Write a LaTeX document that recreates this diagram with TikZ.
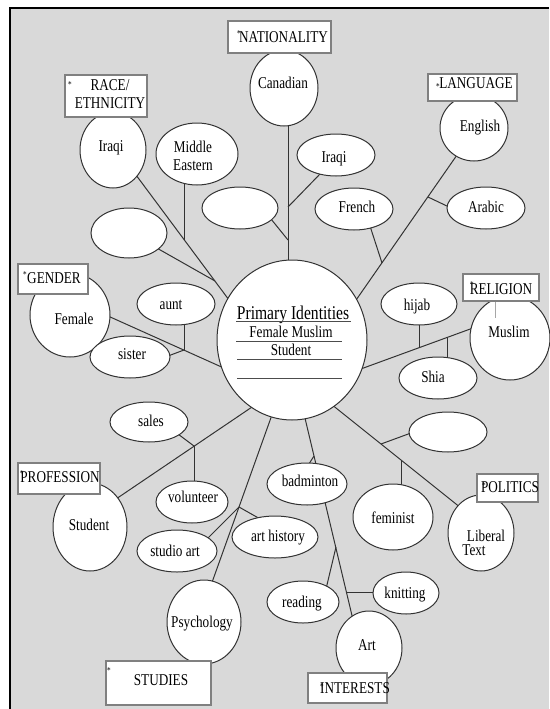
\documentclass[tikz,border=0pt]{standalone}
\usepackage{fontspec}
\setmainfont{Liberation Serif}[FakeStretch=0.8]
\usetikzlibrary{shapes.geometric}
\definecolor{bgc}{HTML}{D9D9D9}
\begin{document}
\begin{tikzpicture}[x=1pt,y=-1pt,
  ell/.style={ellipse, draw=black!80, fill=white, line width=1pt, inner sep=0pt},
  cat/.style={rectangle, draw=black!50, line width=2pt, fill=white, inner sep=0pt},
  lbl/.style={font=\fontsize{16.5}{18}\selectfont, inner sep=0pt, text height=11pt, text depth=0pt},
  ml/.style={font=\fontsize{16.5}{18}\selectfont, inner sep=0pt, align=center},
  ast/.style={font=\fontsize{9}{9}\selectfont, inner sep=0pt},
  conn/.style={draw=black!80, line width=1pt},
  uline/.style={draw=black!70, line width=0.8pt}]
\useasboundingbox (0,0) rectangle (549,709);
\fill[white] (0,0) rectangle (549,709);
\fill[bgc] (10,8) rectangle (549,709);
\draw[line width=2pt] (10,709) -- (10,8) -- (549,8);

% coordinates of connector ends and junctions
\coordinate (ra) at (136,175); \coordinate (rb) at (232,304);
\coordinate (rj1) at (184,240); \coordinate (rme) at (184,180);
\coordinate (rj2) at (215,281); \coordinate (reb) at (155,247);
\coordinate (na) at (288,118); \coordinate (nb) at (288,266);
\coordinate (nj1) at (288,207); \coordinate (nir) at (320,174);
\coordinate (nj2) at (288,240); \coordinate (nea) at (271,219);
\coordinate (la) at (457,155); \coordinate (lb) at (354,303);
\coordinate (lj1) at (428,197); \coordinate (lar) at (449,207);
\coordinate (lj2) at (382,263); \coordinate (lfr) at (370,226);
\coordinate (ga) at (108,316); \coordinate (gb) at (226,369);
\coordinate (gj) at (184,350); \coordinate (gau) at (184,320);
\coordinate (gsi) at (168,356);
\coordinate (ea) at (358,370); \coordinate (eb) at (473,328);
\coordinate (ej1) at (419,348); \coordinate (ehi) at (419,322);
\coordinate (ej2) at (447,337.5); \coordinate (esh) at (447,360);
\coordinate (pa) at (331,404); \coordinate (pb) at (461,508);
\coordinate (pj1) at (381,444); \coordinate (pec) at (411,433);
\coordinate (pj2) at (401,460); \coordinate (pfe) at (401,488);
\coordinate (ia) at (304,414); \coordinate (ib) at (354,624);
\coordinate (ibd1) at (307,467); \coordinate (ibd2) at (314,456);
\coordinate (ij1) at (336,547); \coordinate (ire) at (326,589);
\coordinate (ij2) at (346,592); \coordinate (ikn) at (376,592);
\coordinate (sa) at (273,412); \coordinate (sb) at (210,588);
\coordinate (sj) at (239,507); \coordinate (ssa) at (207,539);
\coordinate (sah) at (262,520);
\coordinate (qa) at (255,405); \coordinate (qb) at (116,499);
\coordinate (qj) at (194,446); \coordinate (qsa) at (178,434);
\coordinate (qvo) at (194,485);

% connectors
\draw[conn] (ra) -- (rb); \draw[conn] (rme) -- (rj1); \draw[conn] (reb) -- (rj2);
\draw[conn] (na) -- (nb); \draw[conn] (nir) -- (nj1); \draw[conn] (nea) -- (nj2);
\draw[conn] (la) -- (lb); \draw[conn] (lar) -- (lj1); \draw[conn] (lfr) -- (lj2);
\draw[conn] (ga) -- (gb); \draw[conn] (gau) -- (gj); \draw[conn] (gsi) -- (gj);
\draw[conn] (ea) -- (eb); \draw[conn] (ehi) -- (ej1); \draw[conn] (esh) -- (ej2);
\draw[conn] (pa) -- (pb); \draw[conn] (pec) -- (pj1); \draw[conn] (pfe) -- (pj2);
\draw[conn] (ia) -- (ib); \draw[conn] (ibd1) -- (ibd2); \draw[conn] (ire) -- (ij1); \draw[conn] (ikn) -- (ij2);
\draw[conn] (sa) -- (sb); \draw[conn] (ssa) -- (sj); \draw[conn] (sah) -- (sj);
\draw[conn] (qa) -- (qb); \draw[conn] (qsa) -- (qj); \draw[conn] (qvo) -- (qj);

% ellipses
\node[ell, minimum width=150, minimum height=160] (core) at (292,340) {};
\node[ell, minimum width=68, minimum height=76] (canadian) at (284,88) {};
\node[ell, minimum width=66, minimum height=76] (iraqiR) at (113,150) {};
\node[ell, minimum width=82, minimum height=62] (mideast) at (197,154) {};
\node[ell, minimum width=76, minimum height=42] (emptyA) at (240,208) {};
\node[ell, minimum width=76, minimum height=50] (emptyB) at (129,233) {};
\node[ell, minimum width=78, minimum height=42] (iraqiN) at (336,155) {};
\node[ell, minimum width=78, minimum height=42] (french) at (354,209) {};
\node[ell, minimum width=68, minimum height=66] (english) at (474,128) {};
\node[ell, minimum width=78, minimum height=42] (arabic) at (486,208) {};
\node[ell, minimum width=80, minimum height=84] (female) at (70,315) {};
\node[ell, minimum width=78, minimum height=42] (aunt) at (176,304) {};
\node[ell, minimum width=80, minimum height=42] (sister) at (130,357) {};
\node[ell, minimum width=76, minimum height=42] (hijab) at (419,304) {};
\node[ell, minimum width=78, minimum height=42] (shia) at (438,378) {};
\node[ell, minimum width=80, minimum height=84] (muslim) at (510,338) {};
\node[ell, minimum width=78, minimum height=40] (emptyC) at (448,432) {};
\node[ell, minimum width=78, minimum height=40] (sales) at (149,422) {};
\node[ell, minimum width=72, minimum height=42] (volunteer) at (192,502) {};
\node[ell, minimum width=74, minimum height=88] (student) at (90,527) {};
\node[ell, minimum width=80, minimum height=42] (studio) at (177,551) {};
\node[ell, minimum width=86, minimum height=42] (arthist) at (275,537) {};
\node[ell, minimum width=80, minimum height=42] (badminton) at (307,484) {};
\node[ell, minimum width=80, minimum height=66] (feminist) at (393,517) {};
\node[ell, minimum width=66, minimum height=76] (liberal) at (481,533) {};
\node[ell, minimum width=72, minimum height=42] (reading) at (303,602) {};
\node[ell, minimum width=66, minimum height=42] (knitting) at (406,593) {};
\node[ell, minimum width=66, minimum height=74] (art) at (369,648) {};
\node[ell, minimum width=74, minimum height=84] (psych) at (204,622) {};

% category boxes
\node[cat, minimum width=103, minimum height=32] (natbox) at (279.5,37) {};
\node[cat, minimum width=82, minimum height=42] (racebox) at (106,96) {};
\node[cat, minimum width=89, minimum height=27] (langbox) at (472.5,87.5) {};
\node[cat, minimum width=70, minimum height=30] (genbox) at (53,279) {};
\node[cat, minimum width=76, minimum height=27] (relbox) at (501,287.5) {};
\node[cat, minimum width=82, minimum height=31] (profbox) at (59,478.5) {};
\node[cat, minimum width=61, minimum height=28] (polbox) at (507.5,488) {};
\node[cat, minimum width=105, minimum height=44] (studbox) at (158.5,683) {};
\node[cat, minimum width=79, minimum height=30] (intbox) at (347.5,688) {};
\coordinate (rl1) at (495,302); \coordinate (rl2) at (495,318);
\draw[black!35, line width=0.6pt] (rl1) -- (rl2);

% category texts
\node[lbl] (tnat) at (283.5,37) {NATIONALITY};
\node[ml] (trace) at (110,94) {RACE/\\ETHNICITY};
\node[lbl] (tlang) at (476,83) {LANGUAGE};
\node[lbl] (tgen) at (54,278) {GENDER};
\node[lbl] (trel) at (501,289) {RELIGION};
\node[lbl] (tprof) at (60,477) {PROFESSION};
\node[lbl] (tpol) at (510,487) {POLITICS};
\node[lbl] (tstud) at (161,680) {STUDIES};
\node[lbl] (tint) at (355,688) {INTERESTS};
\node[ast] (s1) at (70,85) {*};
\node[ast] (s2) at (239,34) {*};
\node[ast] (s3) at (438,87) {*};
\node[ast] (s4) at (25,275) {*};
\node[ast] (s5) at (472,285) {*};
\node[ast] (s6) at (22,474) {*};
\node[ast] (s7) at (484,486) {*};
\node[ast] (s8) at (109,671) {*};
\node[ast] (s9) at (322,687) {*};

% centre texts
\node[lbl, font=\fontsize{19.5}{20}\selectfont, text height=12.5pt] (tpi) at (293,313) {Primary Identities};
\node[lbl] (tfm) at (291,332) {Female Muslim};
\node[lbl] (tst) at (291,350) {Student};
\coordinate (u1a) at (236,321); \coordinate (u1b) at (351,321);
\coordinate (u2a) at (236,341); \coordinate (u2b) at (342,341);
\coordinate (u3a) at (237,359); \coordinate (u3b) at (342,359);
\coordinate (u4a) at (237,378); \coordinate (u4b) at (342,378);
\draw[uline] (u1a) -- (u1b); \draw[uline] (u2a) -- (u2b);
\draw[uline] (u3a) -- (u3b); \draw[uline] (u4a) -- (u4b);

% ellipse texts
\node[lbl] (tcan) at (283,83) {Canadian};
\node[lbl] (tir1) at (111,146) {Iraqi};
\node[ml] (tme) at (193,156) {Middle\\Eastern};
\node[lbl] (tir2) at (334,157) {Iraqi};
\node[lbl] (tfr) at (357,207) {French};
\node[lbl] (ten) at (480,126) {English};
\node[lbl] (tar) at (486,207) {Arabic};
\node[lbl] (tfe) at (74,319) {Female};
\node[lbl] (tau) at (171,304) {aunt};
\node[lbl] (tsi) at (132,354) {sister};
\node[lbl] (thi) at (417,305) {hijab};
\node[lbl] (tsh) at (433,377) {Shia};
\node[lbl] (tmu) at (509,332) {Muslim};
\node[lbl] (tsa) at (151,421) {sales};
\node[lbl] (tvo) at (193,497) {volunteer};
\node[lbl] (tstu) at (89,525) {Student};
\node[lbl] (tsta) at (175,551) {studio art};
\node[lbl] (tah) at (278,536) {art history};
\node[lbl] (tba) at (310,481) {badminton};
\node[lbl] (tfem) at (393,518) {feminist};
\node[lbl] (tlib) at (486,536) {Liberal};
\node[lbl] (ttx) at (474,550) {Text};
\node[lbl] (tre) at (302,602) {reading};
\node[lbl] (tkn) at (405,593) {knitting};
\node[lbl] (tart) at (367,645) {Art};
\node[lbl] (tps) at (202,622) {Psychology};
\end{tikzpicture}
\end{document}
